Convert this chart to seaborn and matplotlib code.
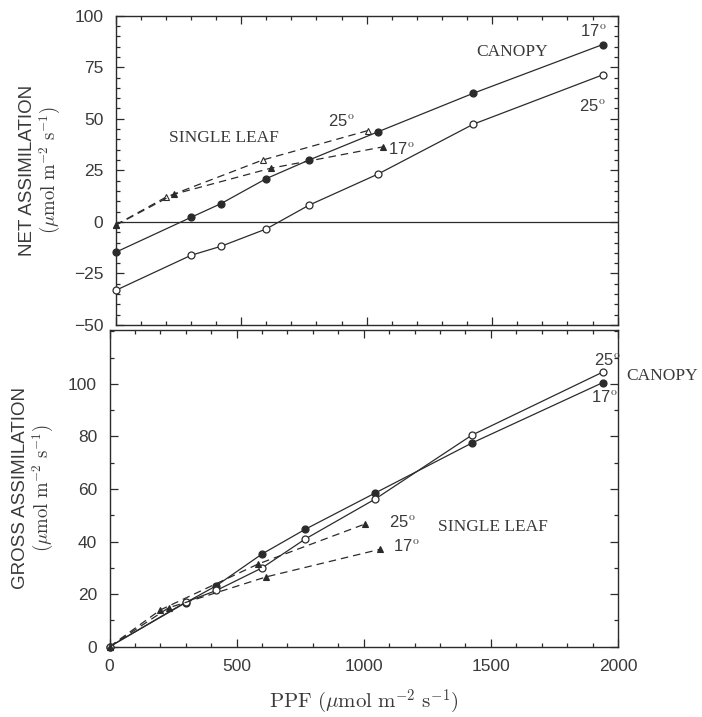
import matplotlib
matplotlib.use("Agg")
import matplotlib.pyplot as plt
import seaborn as sns
from matplotlib.ticker import MultipleLocator

# canopy data (PPF in umol m-2 s-1)
ppf_canopy = [0, 300, 420, 600, 770, 1045, 1425, 1940]
net_canopy_17 = [-14.7, 2.2, 8.9, 21.0, 30.0, 43.7, 62.4, 86.0]
net_canopy_25 = [-33.2, -16.2, -11.8, -3.4, 8.1, 23.2, 47.4, 71.3]
gross_canopy_17 = [0, 16.8, 23.2, 35.3, 44.7, 58.5, 77.5, 100.5]
gross_canopy_25 = [0, 17.0, 21.4, 30.0, 41.0, 56.2, 80.5, 104.5]

# single leaf data
ppf_leaf_25 = [0, 200, 585, 1005]
net_leaf_25 = [-1.5, 12.0, 30.0, 44.3]
gross_leaf_25 = [0, 14.0, 31.5, 46.7]
ppf_leaf_17 = [0, 232, 617, 1065]
net_leaf_17 = [-1.6, 13.4, 26.0, 36.4]
gross_leaf_17 = [0, 14.8, 26.6, 37.1]

sns.set_style("ticks")
plt.rcParams["mathtext.fontset"] = "cm"
plt.rcParams["font.family"] = ["Liberation Sans", "DejaVu Sans"]

ink = "#2b2b2b"
txt = "#3a3a3a"

fig = plt.figure(figsize=(7.02, 7.17), dpi=100)
fig.set_facecolor("white")
ax1 = fig.add_axes([0.1648, 0.5467, 0.7151, 0.4314])
ax2 = fig.add_axes([0.1560, 0.0980, 0.7244, 0.4417])


def canopy(ax, x, y, filled):
    sns.lineplot(x=x, y=y, ax=ax, color=ink, lw=0.9, marker="o", ms=5,
                 mfc=ink if filled else "white", mec=ink, mew=0.9,
                 errorbar=None, clip_on=False, zorder=3)


def leaf(ax, x, y, filled):
    sns.lineplot(x=x, y=y, ax=ax, color=ink, lw=0.9, ls=(0, (6, 4)),
                 marker="^", ms=4.5, mfc=ink if filled else "white",
                 mec=ink, mew=0.8, errorbar=None, clip_on=False, zorder=3)


# top panel: net assimilation
ax1.axhline(0, color=ink, lw=0.9, zorder=1)
canopy(ax1, ppf_canopy, net_canopy_17, True)
canopy(ax1, ppf_canopy, net_canopy_25, False)
leaf(ax1, ppf_leaf_25, net_leaf_25, False)
leaf(ax1, ppf_leaf_17, net_leaf_17, True)

# bottom panel: gross assimilation
canopy(ax2, ppf_canopy, gross_canopy_17, True)
canopy(ax2, ppf_canopy, gross_canopy_25, False)
leaf(ax2, ppf_leaf_25, gross_leaf_25, True)
leaf(ax2, ppf_leaf_17, gross_leaf_17, True)

deg = r"$^\mathrm{o}$"
lab = dict(color=txt, fontsize=12.5, family="Liberation Serif", ha="center", va="center")
num = dict(color=txt, fontsize=12, ha="center", va="center")

ax1.text(1581, 82.5, "CANOPY", **lab)
ax1.text(1902, 92.6, "17" + deg, **num)
ax1.text(1900, 56.2, "25" + deg, **num)
ax1.text(431, 40.6, "SINGLE LEAF", **lab)
ax1.text(898, 48.9, "25" + deg, **num)
ax1.text(1137, 35.3, "17" + deg, **num)

ax2.text(2173, 103, "CANOPY", clip_on=False, **lab)
ax2.text(1960, 109.1, "25" + deg, **num)
ax2.text(1945, 95, "17" + deg, **num)
ax2.text(1508, 45.4, "SINGLE LEAF", **lab)
ax2.text(1150, 47.3, "25" + deg, **num)
ax2.text(1166, 38.3, "17" + deg, **num)

ax1.set_xlim(0, 2000)
ax1.set_ylim(-50, 100)
ax1.yaxis.set_major_locator(MultipleLocator(25))
ax1.yaxis.set_minor_locator(MultipleLocator(5))
ax2.set_xlim(0, 2000)
ax2.set_ylim(0, 120.5)
ax2.set_yticks([0, 20, 40, 60, 80, 100])
ax2.yaxis.set_minor_locator(MultipleLocator(10))

for ax in (ax1, ax2):
    ax.set_facecolor("white")
    ax.xaxis.set_major_locator(MultipleLocator(500))
    ax.xaxis.set_minor_locator(MultipleLocator(100))
    for s in ax.spines.values():
        s.set_visible(True)
        s.set_color(ink)
        s.set_linewidth(1.0)
    ax.tick_params(which="both", direction="in", top=True, right=True,
                   color=ink, labelcolor=txt, labelsize=12.5, width=0.9)
    ax.tick_params(which="major", length=6, pad=9)
    ax.tick_params(which="minor", length=3)

ax1.tick_params(labelbottom=False)
ax1.set_xlabel("")

ax1.set_ylabel("NET ASSIMILATION\n" + r"$(\mu\mathrm{mol\ m}^{-2}\ \mathrm{s}^{-1})$",
               fontsize=13.5, color=txt, linespacing=1.1)
ax2.set_ylabel("GROSS ASSIMILATION\n" + r"$(\mu\mathrm{mol\ m}^{-2}\ \mathrm{s}^{-1})$",
               fontsize=13.5, color=txt, linespacing=1.1)
ax1.yaxis.set_label_coords(-0.105, 0.5)
ax2.yaxis.set_label_coords(-0.105, 0.5)
ax2.set_xlabel(r"$\mathrm{PPF}\ (\mu\mathrm{mol\ m}^{-2}\ \mathrm{s}^{-1})$",
               fontsize=15, color=txt, labelpad=10)

fig.savefig("out.png", dpi=100, facecolor="white")
